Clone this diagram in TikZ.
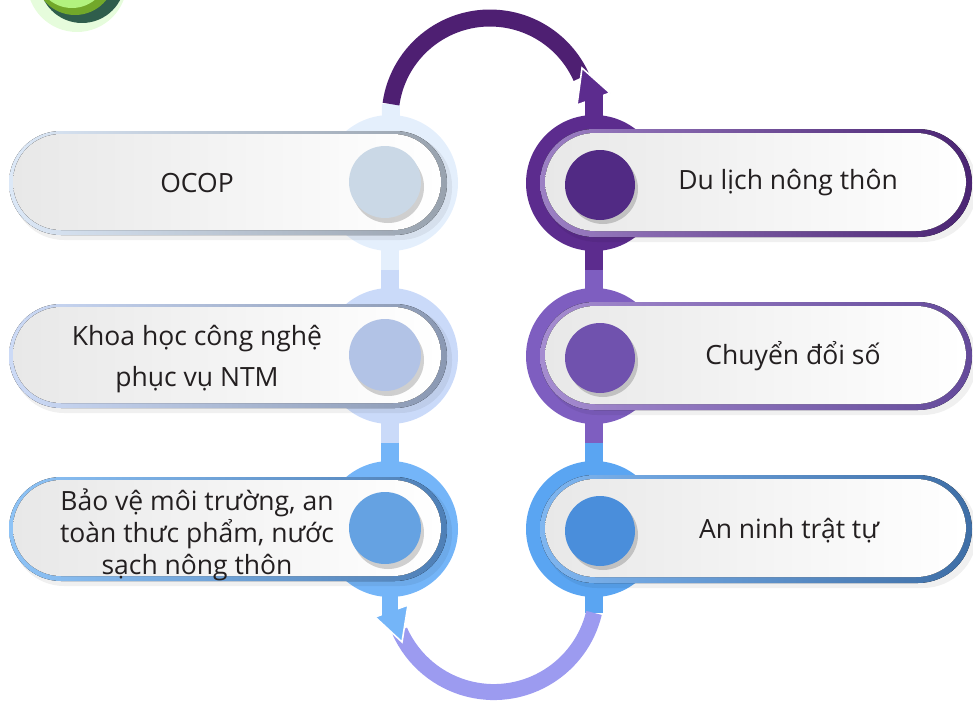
\documentclass[tikz,border=0pt]{standalone}
\usepackage{fontspec}
\setmainfont{Open Sans}
\usetikzlibrary{calc}
\definecolor{gHalo}{HTML}{E6FCDC}
\definecolor{gDark}{HTML}{2F5E4C}
\definecolor{gMid}{HTML}{72A82A}
\definecolor{gLight}{HTML}{B2F27E}
\definecolor{cLa}{HTML}{E4EFFC}
\definecolor{cLb}{HTML}{CADAF9}
\definecolor{cLc}{HTML}{74B5F8}
\definecolor{cRa}{HTML}{5C2C8E}
\definecolor{cRb}{HTML}{7E5EC0}
\definecolor{cRc}{HTML}{5AA5F2}
\definecolor{sLa}{HTML}{CAD8E6}
\definecolor{sLb}{HTML}{B2C3E6}
\definecolor{sLc}{HTML}{65A2E2}
\definecolor{sRa}{HTML}{512A84}
\definecolor{sRb}{HTML}{7052AE}
\definecolor{sRc}{HTML}{4A8EDB}
\definecolor{bLaL}{HTML}{DCE8F7}
\definecolor{bLaR}{HTML}{98A2AE}
\definecolor{bLbL}{HTML}{CCDAF6}
\definecolor{bLbR}{HTML}{8A98B2}
\definecolor{bLcL}{HTML}{8EC3F6}
\definecolor{bLcR}{HTML}{4E7FB6}
\definecolor{bRaL}{HTML}{9C80C4}
\definecolor{bRaR}{HTML}{4A2472}
\definecolor{bRbL}{HTML}{A58CD0}
\definecolor{bRbR}{HTML}{644A9A}
\definecolor{bRcL}{HTML}{7FB6F0}
\definecolor{bRcR}{HTML}{3E6EA6}
\definecolor{arcTop}{HTML}{4E1F72}
\definecolor{arcBot}{HTML}{9C9BF0}
\definecolor{txt}{HTML}{231F20}
\tikzset{
  disk/.style={circle, minimum size=136pt, inner sep=0pt, draw=none},
  stem/.style={line width=18pt},
  lbl/.style={text=txt, font=\fontsize{26.5}{32}\selectfont, align=center, inner sep=0pt},
  pillshadow/.style={fill=black, opacity=0.06},
  pillfill/.style={left color=black!9, right color=white},
}
\newcommand{\leftpill}[4]{% y, border left, border right, small circle
  \fill[pillshadow, rounded corners=52pt] (12,#1+49) rectangle (452,#1-57);
  \fill[left color=#2, right color=#3, rounded corners=52pt] (9,#1+52) rectangle (447,#1-52);
  \fill[pillfill, rounded corners=48pt] (13,#1+49) rectangle (441,#1-47);
  \fill[black, opacity=0.18] (388,#1-4) circle (36);
  \fill[#4] (385,#1+1) circle (36);
}
\newcommand{\rightpill}[4]{%
  \fill[pillshadow, rounded corners=54pt] (543,#1+51) rectangle (977,#1-59);
  \fill[left color=#2, right color=#3, rounded corners=54pt] (540,#1+54) rectangle (972,#1-54);
  \fill[pillfill, rounded corners=50pt] (545,#1+50) rectangle (966,#1-48);
  \fill[black, opacity=0.18] (603,#1-6) circle (35);
  \fill[#4] (600,#1-2) circle (35);
}
\begin{document}
\begin{tikzpicture}[x=1pt,y=1pt]
\useasboundingbox (0,0) rectangle (973,-701);
\clip (0,0) rectangle (973,-701);
% badge
\fill[gHalo] (77,18) circle (50);
\fill[gDark] (82,20) circle (43);
\fill[gMid] (75,25) circle (40);
\fill[gLight] (72,28) circle (36);
% centres
\coordinate (L1) at (390,-183);
\coordinate (L2) at (390,-356);
\coordinate (L3) at (390,-529);
\coordinate (R1) at (594,-183);
\coordinate (R2) at (594,-356);
\coordinate (R3) at (594,-529);
% vertical stems
\draw[stem, cLa] (L1) -- ($(L1)!0.5!(L2)$);
\draw[stem, cLb] ($(L1)!0.5!(L2)$) -- ($(L2)!0.5!(L3)$);
\draw[stem, cLc] ($(L2)!0.5!(L3)$) -- (L3);
\draw[stem, cRa] (R1) -- ($(R1)!0.5!(R2)$);
\draw[stem, cRb] ($(R1)!0.5!(R2)$) -- ($(R2)!0.5!(R3)$);
\draw[stem, cRc] ($(R2)!0.5!(R3)$) -- (R3);
% top arc
\coordinate (ta) at (390.97,-104.1);
\draw[stem, cLa] (L1) -- (ta);
\draw[line width=17pt, arcTop] (ta) arc[start angle=172, end angle=24, radius=100];
\filldraw[fill=cRa, draw=white, line width=1.6pt, line join=miter] (582,-68) -- (610,-93) -- (577,-105) -- cycle;
\fill[cRa] (585,-94) rectangle (603,-125);
% bottom arc
\coordinate (ba) at (594,-612.9);
\draw[stem, cRc] (R3) -- (ba);
\draw[line width=16pt, arcBot] (ba) arc[start angle=-13.4, end angle=-156, radius=103];
\filldraw[fill=cLc, draw=white, line width=1.6pt, line join=miter] (402,-642) -- (375,-617) -- (408,-605) -- cycle;
\fill[cLc] (382,-590) rectangle (398,-616);
% disks
\node[disk, fill=cLa] (dL1) at (L1) {};
\node[disk, fill=cLb] (dL2) at (L2) {};
\node[disk, fill=cLc] (dL3) at (L3) {};
\node[disk, fill=cRa] (dR1) at (R1) {};
\node[disk, fill=cRb] (dR2) at (R2) {};
\node[disk, fill=cRc] (dR3) at (R3) {};
% pills
\leftpill{-183}{bLaL}{bLaR}{sLa}
\leftpill{-356}{bLbL}{bLbR}{sLb}
\leftpill{-529}{bLcL}{bLcR}{sLc}
\rightpill{-183}{bRaL}{bRaR}{sRa}
\rightpill{-356}{bRbL}{bRbR}{sRb}
\rightpill{-529}{bRcL}{bRcR}{sRc}
% texts
\node[lbl] (tL1) at (197,-183) {OCOP};
\node[lbl, font=\fontsize{26.5}{41}\selectfont] (tL2) at (197,-359) {Khoa học công nghệ\\phục vụ NTM};
\node[lbl] (tL3) at (197,-535) {Bảo vệ môi trường, an\\toàn thưc phẩm, nước\\sạch nông thôn};
\node[lbl] (tR1) at (788,-183) {Du lịch nông thôn};
\node[lbl] (tR2) at (793,-356) {Chuyển đổi số};
\node[lbl] (tR3) at (789,-531) {An ninh trật tự};
\end{tikzpicture}
\end{document}
